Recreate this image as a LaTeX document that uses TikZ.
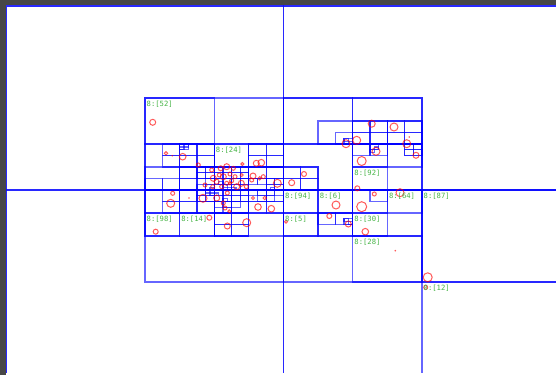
\documentclass[tikz,border=0pt]{standalone}
\usepackage{fontspec}
\newfontfamily\labfont{DejaVu Sans Mono}
\definecolor{lblgreen}{RGB}{70,180,70}
\definecolor{frame}{RGB}{71,71,71}
% quadtree origin and smallest cell (px)
\newcommand\qx{6.5}
\newcommand\qy{6}
\newcommand\qw{8.656}
\newcommand\qh{5.75}
\tikzset{
  qbox/.style={draw=blue,opacity=0.6,line width=1.25pt},
  pt/.style={draw=red,opacity=0.65,line width=1pt},
  ptdot/.style={fill=red,opacity=0.65},
  lbl/.style={text=lblgreen,font=\labfont\fontsize{7.2}{8}\selectfont,inner sep=0pt,anchor=north west},
}
\begin{document}
\begin{tikzpicture}[x=1pt,y=-1pt]
 \useasboundingbox (0,0) rectangle (556,375);
 \fill[frame] (0,0) rectangle (556,375);
 \fill[white] (6,5) rectangle (556,375);
 \begin{scope}
 \clip (6,5) rectangle (556,372.2);
 % cells: i/j/size, in smallest cells
 \foreach \i/\j/\s in {0/0/64,
   0/0/32,32/0/32,0/32/32,32/32/32,
   16/16/16,32/16/16,16/32/16,32/32/16,48/32/16,48/48/16,
   16/16/8,16/24/8,24/24/8,32/16/8,40/16/8,32/24/8,40/24/8,16/32/8,24/32/8,32/32/8,40/32/8,40/40/8,
   20/24/4,16/28/4,20/28/4,24/24/4,28/24/4,24/28/4,28/28/4,36/20/4,40/20/4,44/20/4,32/28/4,
   40/24/4,44/24/4,40/28/4,16/32/4,20/32/4,16/36/4,20/36/4,24/32/4,28/32/4,24/36/4,
   32/32/4,36/32/4,32/36/4,36/36/4,40/32/4,44/32/4,40/36/4}
   \draw[qbox] ({\qx+\qw*\i},{\qy+\qh*\j}) rectangle ++({\qw*\s},{\qh*\s});
 % level 5
 \foreach \i/\j in {18/24,18/26,20/24,22/24,20/26,22/26,20/28,22/28,20/30,22/30,16/30,18/30,
   28/24,30/24,28/26,30/26,24/28,26/28,24/30,26/30,28/28,30/28,28/30,30/30,
   38/22,40/20,42/20,40/22,42/22,44/20,46/20,44/22,46/22,40/24,42/24,46/24,32/28,34/28,32/30,34/30,
   18/32,18/34,20/32,22/32,20/34,22/34,24/32,26/32,24/34,26/34,28/32,30/32,28/34,30/34,
   24/36,26/36,24/38,26/38,36/36,38/36,42/32}
   \draw[qbox] ({\qx+\qw*\i},{\qy+\qh*\j}) rectangle ++({\qw*2},{\qh*2});
 % level 6 and 7
 \foreach \i/\j/\s in {20/24/1,22/28/1,23/28/1,22/29/1,23/29/1,23/30/1,23/31/1,22/31/1,
   24/28/1,25/28/1,24/29/1,25/29/1,26/28/1,27/28/1,26/29/1,27/29/1,24/30/1,25/30/1,24/31/1,25/31/1,
   26/30/1,27/30/1,26/31/1,27/31/1,30/30/1,31/30/1,30/31/1,31/31/1,28/30/1,29/30/1,
   22/32/1,23/32/1,22/33/1,23/33/1,24/32/1,25/32/1,24/33/1,25/33/1,26/32/1,27/32/1,26/33/1,27/33/1,
   24/34/1,25/34/1,26/34/1,25/35/1,28/32/1,29/32/1,29/33/1,30/32/1,31/32/1,30/33/1,
   39/23/1,42/24/1,46/24/1,47/24/1,46/25/1,47/25/1,39/37/1,
   39/23/0.5,39.5/23.5/0.5,42.5/24.5/0.5,42/25/0.5,24.5/30.5/0.5,25/31/0.5,25.5/31.5/0.5,
   23.5/31.5/0.5,26/31.5/0.5,30.5/31.5/0.5,23/32/0.5,23.5/32.5/0.5,24/32.5/0.5,25/33.5/0.5,
   39/37/0.5,39.5/37.5/0.5,20/24.5/0.5,20.5/24/0.5}
   \draw[qbox] ({\qx+\qw*\i},{\qy+\qh*\j}) rectangle ++({\qw*\s},{\qh*\s});
 % points
 \foreach \px/\py/\r in {152.7/122.3/3,166/153.3/1.7,182.7/156.7/3.3,172.7/193.3/2,198.3/165/2,
   170.7/203.3/4,203/198.3/4,155.7/231.7/2.5,209.3/217.7/2.5,227.3/226/3,246.7/222.7/4,
   216.7/198/3,223.3/203/2,225/208/2,229.3/211.3/1.5,227.3/193/2,
   258/207/3.3,271.3/208.7/3.3,264.7/198/1.7,253/198/1.5,
   242.3/164/1.5,256.3/163.3/3,261.3/162.7/3.3,253/176/3,259.7/178.3/1.7,241.3/183.3/3,246.3/186.7/2,277.3/183.3/4,
   211.7/170/2,213.3/178.3/3,220.7/168.3/2.5,226.7/166.7/3,233.3/168.3/2,219.3/175/2,223.3/176.7/3,
   230/174/2,235/176.7/2,216.7/181.7/2.5,226.7/183.3/2,231.7/180.7/2,221.7/186.7/2,236.7/186.7/3,
   212.7/186.7/2,205/185/2,241.7/175/1.5,251.7/180/2,263.3/176.7/2,230/183.3/1.5,
   291.7/182.7/3,304/174/2.5,286/221.7/1.5,
   371.7/123.7/3.5,394/127/4,356.7/140.3/4,346/143.7/4,406.7/143.7/4,376/151.3/4,361.7/161/4.5,416/155.3/3,357.3/188.3/2.5,
   374.3/194/2,400/192.7/4,336/205/4,361.7/206.7/5,329.3/216/2.5,348.3/224/3,365.3/231.7/3.3,427.7/277.3/4.5,425.7/287.3/2}
   \draw[pt] (\px,\py) circle (\r pt);
 \foreach \px/\py in {172.3/155.7,189/198,395.3/250.7,409.3/137}
   \fill[ptdot] (\px,\py) circle (0.9pt);
 \end{scope}
 % labels
 \foreach \i/\j/\n in {16/16/52,24/24/24,16/36/98,20/36/14,32/32/94,36/32/6,44/32/64,48/32/87,
   40/28/92,32/36/5,40/36/30,40/40/28,48/48/12}
   \node[lbl] (lab\n) at ({\qx+\qw*\i+1.5},{\qy+\qh*\j+2.5}) {8:[\n]};
\end{tikzpicture}
\end{document}
